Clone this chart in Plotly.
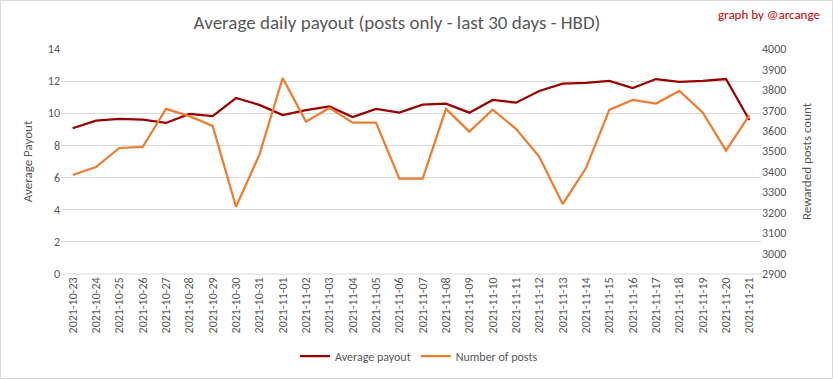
import plotly.graph_objects as go

dates = ["2021-10-23","2021-10-24","2021-10-25","2021-10-26","2021-10-27","2021-10-28","2021-10-29",
         "2021-10-30","2021-10-31","2021-11-01","2021-11-02","2021-11-03","2021-11-04","2021-11-05",
         "2021-11-06","2021-11-07","2021-11-08","2021-11-09","2021-11-10","2021-11-11","2021-11-12",
         "2021-11-13","2021-11-14","2021-11-15","2021-11-16","2021-11-17","2021-11-18","2021-11-19",
         "2021-11-20","2021-11-21"]
avg_payout = [9.07, 9.54, 9.65, 9.60, 9.40, 9.96, 9.83, 10.95, 10.52, 9.89, 10.20, 10.43, 9.77, 10.27,
              10.04, 10.54, 10.60, 10.04, 10.83, 10.66, 11.39, 11.84, 11.89, 12.01, 11.57, 12.13,
              11.95, 12.01, 12.13, 9.58]
num_posts = [3384, 3423, 3516, 3521, 3707, 3672, 3624, 3229, 3482, 3858, 3645, 3712, 3640, 3640,
             3366, 3366, 3707, 3596, 3703, 3610, 3473, 3242, 3418, 3702, 3751, 3733, 3795, 3690,
             3503, 3677]

FONT = "Carlito, Calibri, Lato, sans-serif"
GRAY = "#595959"

fig = go.Figure()
fig.add_trace(go.Scatter(x=dates, y=avg_payout, name="Average payout", mode="lines",
                         line=dict(color="#990000", width=2.25), yaxis="y"))
fig.add_trace(go.Scatter(x=dates, y=num_posts, name="Number of posts", mode="lines",
                         line=dict(color="#ED7D31", width=2.25), yaxis="y2"))

L, R, T, B = 61, 72, 49, 105
W, H = 833, 379
pw, ph = W - L - R, H - T - B

fig.update_layout(
    width=W, height=H,
    margin=dict(l=L, r=R, t=T, b=B, autoexpand=False),
    paper_bgcolor="white", plot_bgcolor="white",
    font=dict(family=FONT, color=GRAY, size=12),
    title=dict(text="Average daily payout (posts only - last 30 days - HBD)",
               x=397 / W, xanchor="center", xref="container",
               y=1 - 22 / H, yanchor="middle", yref="container",
               font=dict(family=FONT, size=19, color=GRAY)),
    xaxis=dict(type="category", tickangle=-90, showgrid=False, zeroline=False, automargin=False,
               showline=False, ticks="", tickfont=dict(size=12, color=GRAY),
               range=[-0.5, len(dates) - 0.5]),
    yaxis=dict(range=[0, 14], dtick=2, showgrid=True, gridcolor="#D9D9D9", gridwidth=1,
               zeroline=False, showline=False, ticks="", automargin=False,
               title=dict(text="Average Payout", font=dict(size=13, color=GRAY), standoff=12),
               tickfont=dict(size=12, color=GRAY)),
    yaxis2=dict(range=[2900, 4000], dtick=100, overlaying="y", side="right", showgrid=False,
                zeroline=False, showline=False, ticks="", automargin=False,
                title=dict(text="Rewarded posts count", font=dict(size=13, color=GRAY), standoff=16),
                tickfont=dict(size=12, color=GRAY)),
    legend=dict(orientation="h", x=(419 - L) / pw, xanchor="center",
                y=(T + ph - 356) / ph, yanchor="middle",
                font=dict(size=12, color=GRAY), itemwidth=30, traceorder="normal"),
    annotations=[dict(text="graph by @arcange", xref="paper", yref="paper",
                      x=(822 - L) / pw, xanchor="right", y=(T + ph - 15) / ph, yanchor="middle",
                      showarrow=False, font=dict(family=FONT, size=13, color="#CC0000"))],
    shapes=[
        dict(type="line", xref="paper", yref="paper", x0=0, x1=1, y0=0, y1=0,
             line=dict(color="#D9D9D9", width=1)),
        dict(type="rect", xref="paper", yref="paper",
             x0=(0.5 - L) / pw, x1=(W - 0.5 - L) / pw,
             y0=(T + ph - (H - 0.5)) / ph, y1=(T + ph - 0.5) / ph,
             line=dict(color="#D9D9D9", width=1), fillcolor="rgba(0,0,0,0)", layer="below"),
    ],
)

fig.write_html("out.html", config={"displayModeBar": False},
               post_script="document.body.style.margin='0';document.body.style.overflow='hidden';")
